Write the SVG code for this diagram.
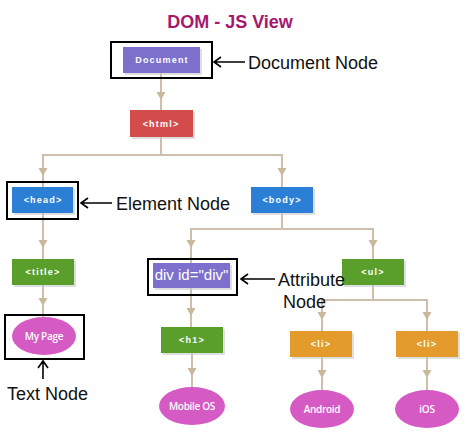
<svg xmlns="http://www.w3.org/2000/svg" width="474" height="437" viewBox="0 0 474 437">
<style>
.box{stroke:none}
.sh{fill:#c9c9c9;opacity:0.6}
.lbl{font-family:"Liberation Sans",Arial,sans-serif;font-weight:bold;font-size:9px;fill:#fff;text-anchor:middle;letter-spacing:1.2px}
.etx{font-family:"Open Sans","Liberation Sans",sans-serif;font-weight:600;font-size:10px;fill:#fff;text-anchor:middle;letter-spacing:-0.3px}
.ann{font-family:"Liberation Sans",Arial,sans-serif;font-size:18px;fill:#111}
.frame{fill:none;stroke:#000;stroke-width:2}
.conn{fill:none;stroke:#cdbfab;stroke-width:2}
.ptr{fill:none;stroke:#000;stroke-width:1.6}
.purple{fill:#7c70cc}
.red{fill:#d24c4c}
.blue{fill:#2b80d6}
.green{fill:#5a9e2b}
.orange{fill:#e39c2b}
.pink{fill:#d65ac4}
</style>
<defs>
<path id="ah" d="M-4.5,-8 L4.5,-8 L0,0 Z" fill="#c8b89c"/>
</defs>
<text x="230" y="28" text-anchor="middle" font-family="Liberation Sans,Arial,sans-serif" font-weight="bold" font-size="18" fill="#a6186e">DOM - JS View</text>
<g id="connectors">
<path class="conn" d="M161,73 V110"/>
<path class="conn" d="M161,137 V155 M43,187 V155 H282 V187"/>
<path class="conn" d="M43,213 V259"/>
<path class="conn" d="M43,285 V317"/>
<path class="conn" d="M282,213 V229 M191,263 V229 H373 V259"/>
<path class="conn" d="M191,288 V327"/>
<path class="conn" d="M192,353 V387"/>
<path class="conn" d="M373,285 V300 M322,331 V300 H427 V331"/>
<path class="conn" d="M322,357 V390"/>
<path class="conn" d="M427,357 V390"/>
<use href="#ah" x="161" y="100"/>
<use href="#ah" x="43" y="176"/>
<use href="#ah" x="282" y="176"/>
<use href="#ah" x="43" y="248"/>
<use href="#ah" x="43" y="306"/>
<use href="#ah" x="191" y="248"/>
<use href="#ah" x="373" y="248"/>
<use href="#ah" x="191" y="316"/>
<use href="#ah" x="192" y="376"/>
<use href="#ah" x="322" y="320"/>
<use href="#ah" x="427" y="320"/>
<use href="#ah" x="322" y="378"/>
<use href="#ah" x="427" y="378"/>
</g>
<g id="document">
<rect class="sh" x="125" y="49" width="77" height="26"/>
<rect class="box purple" x="123" y="47" width="77" height="26"/>
<text class="lbl" x="162" y="63">Document</text>
<rect class="frame" x="111" y="42" width="101" height="36"/>
</g>
<g id="html">
<rect class="sh" x="132" y="112" width="63" height="27"/>
<rect class="box red" x="130" y="110" width="63" height="27"/>
<text class="lbl" x="161" y="127">&lt;html&gt;</text>
</g>
<g id="head">
<rect class="sh" x="14" y="189" width="61" height="26"/>
<rect class="box blue" x="12" y="187" width="61" height="26"/>
<text class="lbl" x="43" y="203">&lt;head&gt;</text>
<rect class="frame" x="7" y="182" width="71" height="37"/>
</g>
<g id="body">
<rect class="sh" x="253" y="189" width="62" height="26"/>
<rect class="box blue" x="251" y="187" width="62" height="26"/>
<text class="lbl" x="282" y="203">&lt;body&gt;</text>
</g>
<g id="title">
<rect class="sh" x="14" y="261" width="62" height="26"/>
<rect class="box green" x="12" y="259" width="62" height="26"/>
<text class="lbl" x="43" y="275">&lt;title&gt;</text>
</g>
<g id="div">
<rect class="sh" x="155" y="265" width="77" height="25"/>
<rect class="box purple" x="153" y="263" width="77" height="25"/>
<text x="191.5" y="280" text-anchor="middle" font-family="Liberation Sans,Arial,sans-serif" font-size="15" fill="#fff">div id="div"</text>
<rect class="frame" x="148" y="259" width="89" height="36"/>
</g>
<g id="ul">
<rect class="sh" x="344" y="261" width="62" height="26"/>
<rect class="box green" x="342" y="259" width="62" height="26"/>
<text class="lbl" x="373" y="275">&lt;ul&gt;</text>
</g>
<g id="mypage">
<ellipse class="pink" cx="44" cy="336" rx="32" ry="19"/>
<text class="etx" x="44" y="340">My Page</text>
<rect class="frame" x="5" y="315" width="79" height="44"/>
</g>
<g id="h1">
<rect class="sh" x="163" y="329" width="62" height="26"/>
<rect class="box green" x="161" y="327" width="62" height="26"/>
<text class="lbl" x="192" y="343">&lt;h1&gt;</text>
</g>
<g id="li1">
<rect class="sh" x="292" y="333" width="62" height="26"/>
<rect class="box orange" x="290" y="331" width="62" height="26"/>
<text class="lbl" x="321" y="347">&lt;li&gt;</text>
</g>
<g id="li2">
<rect class="sh" x="398" y="333" width="62" height="26"/>
<rect class="box orange" x="396" y="331" width="62" height="26"/>
<text class="lbl" x="427" y="347">&lt;li&gt;</text>
</g>
<g id="mobileos">
<ellipse class="pink" cx="192" cy="406" rx="33" ry="19"/>
<text class="etx" x="192" y="410">Mobile OS</text>
</g>
<g id="android">
<ellipse class="pink" cx="322" cy="409" rx="32" ry="19"/>
<text class="etx" x="322" y="413">Android</text>
</g>
<g id="ios">
<ellipse class="pink" cx="427" cy="409" rx="32" ry="19"/>
<text class="etx" x="427" y="413">iOS</text>
</g>
<g id="annotations">
<path class="ptr" d="M214,62 H245 M221,57 L214,62 L221,67"/>
<text class="ann" x="248" y="69">Document Node</text>
<path class="ptr" d="M81,203 H112 M88,198 L81,203 L88,208"/>
<text class="ann" x="116" y="210">Element Node</text>
<path class="ptr" d="M241,279 H275 M248,274 L241,279 L248,284"/>
<text class="ann" x="278" y="286">Attribute</text>
<text class="ann" x="283" y="308">Node</text>
<path class="ptr" d="M43,361 V379 M38,368 L43,361 L48,368"/>
<text class="ann" x="7" y="400">Text Node</text>
</g>
</svg>
